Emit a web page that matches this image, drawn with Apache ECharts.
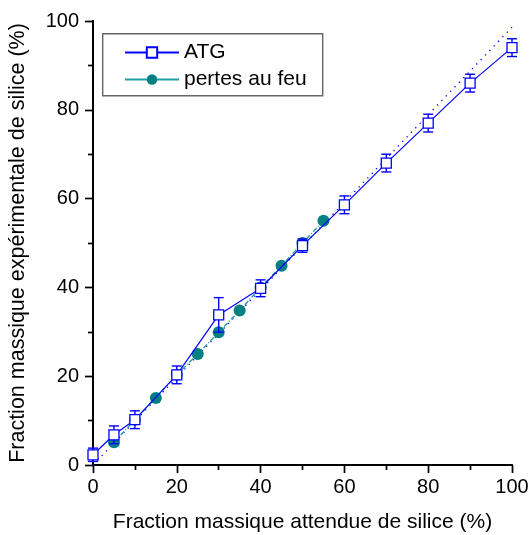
<!DOCTYPE html>
<html><head><meta charset="utf-8">
<script src="https://cdn.jsdelivr.net/npm/echarts@6/dist/echarts.min.js"></script>
<style>html,body{margin:0;padding:0;background:#fff}#c{width:530px;height:535px}</style>
</head><body><div id="c"></div>
<script>
var atgX = [0, 5, 10, 20, 30, 40, 50, 60, 70, 80, 90, 100];
var atgY = [2.3, 6.8, 10.2, 20.3, 33.8, 39.8, 49.4, 58.6, 68.0, 77.0, 86.0, 94.0];
var atgErr = [1.5, 2.0, 2.0, 2.0, 3.9, 1.9, 1.5, 2.0, 2.0, 2.0, 2.0, 2.0];
var pafX = [5, 10, 15, 20, 25, 30, 35, 40, 45, 50, 55];
var pafY = [5.1, 10.2, 15.1, 20.3, 25.0, 29.9, 34.8, 40.0, 44.9, 50.0, 55.0];
var fitX = [0, 100];
var fitY = [0, 98.6];
var xTicks = [0, 20, 40, 60, 80, 100];
var yTicks = [0, 20, 40, 60, 80, 100];

var font = 'Liberation Sans, Arial, sans-serif';
function zip(a, b) { return a.map(function (v, i) { return [v, b[i]]; }); }
var errData = atgX.map(function (x, i) { return [x, atgY[i] - atgErr[i], atgY[i] + atgErr[i]]; });

var chart = echarts.init(document.getElementById('c'), null, { renderer: 'canvas' });
var axisCommon = {
  type: 'value', min: 0, max: 100, interval: 20,
  axisLine: { show: true, lineStyle: { color: '#000', width: 1.8 } },
  splitLine: { show: false },
  minorTick: { show: true, splitNumber: 2, length: 5, lineStyle: { color: '#000', width: 1.4 } },
  axisTick: { show: true, length: 8, lineStyle: { color: '#000', width: 1.4 } }
};
function ax(extra) { return Object.assign({}, JSON.parse(JSON.stringify(axisCommon)), extra); }

chart.setOption({
  animation: false,
  grid: { left: 93, right: 18, top: 21, bottom: 70, containLabel: false, outerBoundsMode: 'none' },
  graphic: [{
    type: 'rect', left: 102, top: 33, z: 10,
    shape: { width: 220, height: 62 },
    style: { fill: '#fff', stroke: '#666', lineWidth: 1.4 }
  }],
  legend: {
    left: 102, top: 33,
    orient: 'vertical', padding: [9, 10, 4, 22], z: 11,
    itemWidth: 54, itemHeight: 13, itemGap: 6,
    textStyle: { fontFamily: font, fontSize: 21, color: '#000', padding: [0, 0, 0, 0] },
    data: [
      { name: 'ATG', lineStyle: { type: 'solid', color: '#0000ff' } },
      { name: 'pertes au feu', lineStyle: { type: 'solid', color: '#20a0a0' } }
    ]
  },
  xAxis: [
    ax({
      position: 'bottom',
      axisLabel: { fontFamily: font, fontSize: 20, color: '#000', margin: 12,
        formatter: function (v) { return xTicks.indexOf(v) >= 0 ? String(v) : ''; } },
      name: 'Fraction massique attendue de silice (%)', nameLocation: 'middle', nameGap: 47,
      nameTextStyle: { fontFamily: font, fontSize: 21, color: '#000' }
    }),
    ax({ position: 'top', axisLabel: { show: false },
      axisTick: { show: true, inside: true, length: 8, lineStyle: { color: '#000', width: 1.4 } },
      minorTick: { show: true, splitNumber: 2, length: 5, lineStyle: { color: '#000', width: 1.4 } } })
  ],
  yAxis: [
    ax({
      position: 'left',
      axisLabel: { fontFamily: font, fontSize: 20, color: '#000', margin: 14,
        formatter: function (v) { return yTicks.indexOf(v) >= 0 ? String(v) : ''; } },
      name: 'Fraction massique expérimentale de silice (%)', nameLocation: 'middle', nameGap: 64,
      nameTextStyle: { fontFamily: font, fontSize: 21.5, color: '#000' }
    }),
    ax({ position: 'right', axisLabel: { show: false },
      axisTick: { show: true, inside: true, length: 8, lineStyle: { color: '#000', width: 1.4 } },
      minorTick: { show: true, splitNumber: 2, length: 5, lineStyle: { color: '#000', width: 1.4 } } })
  ],
  series: [
    {
      name: 'fit', type: 'line', data: zip(fitX, fitY), symbol: 'none',
      lineStyle: { color: '#0000ff', width: 1.3, type: [1.3, 5] }, z: 1, silent: true
    },
    {
      name: 'pertes au feu', type: 'line', data: zip(pafX, pafY),
      symbol: 'circle', symbolSize: 12,
      itemStyle: { color: '#008080' },
      lineStyle: { color: '#1a9a9a', width: 1.3, type: [5, 2, 1, 2] }, z: 3
    },
    {
      name: 'err', type: 'custom', data: errData, z: 4, silent: true,
      renderItem: function (params, api) {
        var x = api.value(0);
        var lo = api.coord([x, api.value(1)]);
        var hi = api.coord([x, api.value(2)]);
        var w = 5;
        var st = { stroke: '#0000ff', lineWidth: 1.4 };
        return { type: 'group', children: [
          { type: 'line', shape: { x1: lo[0], y1: lo[1], x2: hi[0], y2: hi[1] }, style: st },
          { type: 'line', shape: { x1: lo[0] - w, y1: lo[1], x2: lo[0] + w, y2: lo[1] }, style: st },
          { type: 'line', shape: { x1: hi[0] - w, y1: hi[1], x2: hi[0] + w, y2: hi[1] }, style: st }
        ] };
      }
    },
    {
      name: 'ATG', type: 'line', data: zip(atgX, atgY),
      symbol: 'rect', symbolSize: 10,
      itemStyle: { color: '#fff', borderColor: '#0000ff', borderWidth: 1.3 },
      lineStyle: { color: '#0000ff', width: 1.2 }, z: 5
    }
  ]
});
</script></body></html>
